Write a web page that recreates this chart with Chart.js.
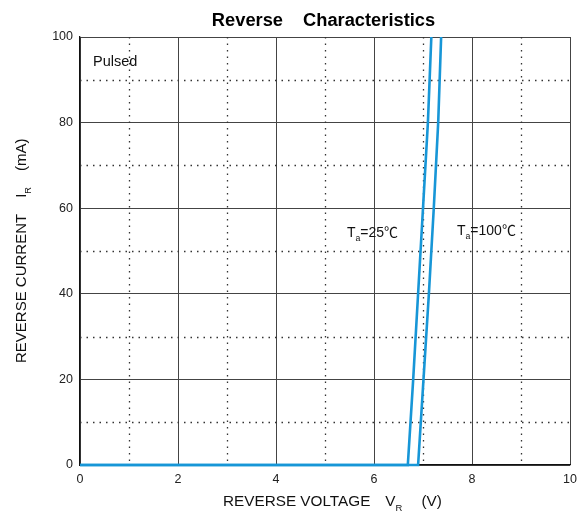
<!DOCTYPE html>
<html>
<head>
<meta charset="utf-8">
<script src="https://cdn.jsdelivr.net/npm/chart.js@4.4.0/dist/chart.umd.min.js"></script>
<style>
html,body{margin:0;padding:0;background:#fff;}
#wrap{width:579px;height:512px;}
</style>
</head>
<body>
<div id="wrap"><canvas id="c" width="579" height="512"></canvas></div>
<script>
// ---- data ----
const xTicks = [0, 2, 4, 6, 8, 10];
const yTicks = [0, 20, 40, 60, 80, 100];
const xMinor = [1, 3, 5, 7, 9];
const yMinor = [10, 30, 50, 70, 90];
const volt25 = [0, 6.69, 6.80, 6.90, 7.00, 7.10, 7.17];
const curr25 = [0, 0, 20, 40, 60, 80, 100];
const volt100 = [0, 6.90, 7.01, 7.12, 7.22, 7.31, 7.37];
const curr100 = [0, 0, 20, 40, 60, 80, 100];
const titleText = ['Reverse', 'Characteristics'];

const toPts = (xs, ys) => xs.map((x, i) => ({x: x, y: ys[i]}));
const FONT = '"Liberation Sans", Arial, Helvetica, sans-serif';
const CJK = '"Noto Sans CJK SC", "Noto Sans CJK JP", sans-serif';
const BLUE = '#1796d7';

function fontOf(p) {
  const s = p.sub ? p.size * 0.62 : p.size;
  return s + 'px ' + (p.cjk ? CJK : FONT);
}
function drawSub(ctx, parts, x, y, align) {
  let total = 0;
  parts.forEach(p => { ctx.font = fontOf(p); total += ctx.measureText(p.t).width + (p.gap || 0); });
  let cx = align === 'center' ? x - total/2 : x;
  parts.forEach(p => {
    ctx.font = fontOf(p);
    ctx.fillText(p.t, cx, p.sub ? y + p.size*0.32 : y);
    cx += ctx.measureText(p.t).width + (p.gap || 0);
  });
}

const extras = {
  id: 'extras',
  beforeDatasetsDraw(chart) {
    const ctx = chart.ctx, a = chart.chartArea;
    const xs = chart.scales.x, ys = chart.scales.y;
    ctx.save();
    ctx.strokeStyle = '#333';
    ctx.lineWidth = 1.3;
    ctx.setLineDash([1.5, 5]);
    xMinor.forEach(v => {
      const px = Math.round(xs.getPixelForValue(v)) + 0.5;
      ctx.beginPath(); ctx.moveTo(px, a.top); ctx.lineTo(px, a.bottom); ctx.stroke();
    });
    yMinor.forEach(v => {
      const py = Math.round(ys.getPixelForValue(v)) + 0.5;
      ctx.beginPath(); ctx.moveTo(a.left, py); ctx.lineTo(a.right, py); ctx.stroke();
    });
    ctx.restore();
  },
  afterDraw(chart) {
    const ctx = chart.ctx, a = chart.chartArea;
    ctx.save();
    ctx.fillStyle = '#000';
    ctx.textBaseline = 'alphabetic';
    ctx.font = 'bold 18.3px ' + FONT;
    const w1 = ctx.measureText(titleText[0]).width, w2 = ctx.measureText(titleText[1]).width;
    const gap = 20;
    const tx = 323.5 - (w1 + gap + w2)/2;
    ctx.fillText(titleText[0], tx, 26);
    ctx.fillText(titleText[1], tx + w1 + gap, 26);
    ctx.fillStyle = '#111';
    drawSub(ctx, [
      {t: 'REVERSE VOLTAGE', size: 15.3, gap: 15},
      {t: 'V', size: 15.3},
      {t: 'R', size: 15.3, sub: true, gap: 19},
      {t: '(V)', size: 15.3}
    ], 223, 506);
    ctx.save();
    ctx.translate(26, 363);
    ctx.rotate(-Math.PI/2);
    drawSub(ctx, [
      {t: 'REVERSE CURRENT', size: 15, gap: 16},
      {t: 'I', size: 15},
      {t: 'R', size: 15, sub: true, gap: 16},
      {t: '(mA)', size: 15}
    ], 0, 0);
    ctx.restore();
    ctx.fillStyle = '#111';
    ctx.font = '14.5px ' + FONT;
    ctx.fillText('Pulsed', 93, 66);
    drawSub(ctx, [{t: 'T', size: 14}, {t: 'a', size: 14, sub: true}, {t: '=25', size: 14}, {t: '℃', size: 14, cjk: true}], 347, 237);
    drawSub(ctx, [{t: 'T', size: 14}, {t: 'a', size: 14, sub: true}, {t: '=100', size: 14}, {t: '℃', size: 14, cjk: true}], 457, 235);
    ctx.restore();
  }
};

new Chart(document.getElementById('c'), {
  type: 'scatter',
  data: {
    datasets: [
      {label: 'Ta=25', data: toPts(volt25, curr25), showLine: true, borderColor: BLUE, borderWidth: 2.6, pointRadius: 0, tension: 0, clip: false},
      {label: 'Ta=100', data: toPts(volt100, curr100), showLine: true, borderColor: BLUE, borderWidth: 2.6, pointRadius: 0, tension: 0, clip: false}
    ]
  },
  options: {
    responsive: false,
    animation: false,
    devicePixelRatio: 1,
    layout: {padding: {left: 0, right: 9, top: 37, bottom: 0}},
    plugins: {legend: {display: false}, tooltip: {enabled: false}, title: {display: false}},
    scales: {
      x: {
        type: 'linear', min: 0, max: 10,
        afterBuildTicks: s => { s.ticks = xTicks.map(v => ({value: v})); },
        afterFit: s => { s.height = 47; s.paddingRight = 0; s.paddingLeft = 0; },
        grid: {color: '#444', lineWidth: 1, drawTicks: false},
        border: {color: '#111', width: 1.3},
        ticks: {padding: 7, color: '#222', font: {size: 12.5, family: FONT}}
      },
      y: {
        type: 'linear', min: 0, max: 100,
        afterBuildTicks: s => { s.ticks = yTicks.map(v => ({value: v})); },
        afterFit: s => { s.width = 80; s.paddingTop = 0; s.paddingBottom = 0; },
        grid: {color: '#444', lineWidth: 1, drawTicks: false},
        border: {color: '#111', width: 1.3},
        ticks: {padding: 7, color: '#222', font: {size: 12.5, family: FONT}}
      }
    }
  },
  plugins: [extras]
});
</script>
</body>
</html>
